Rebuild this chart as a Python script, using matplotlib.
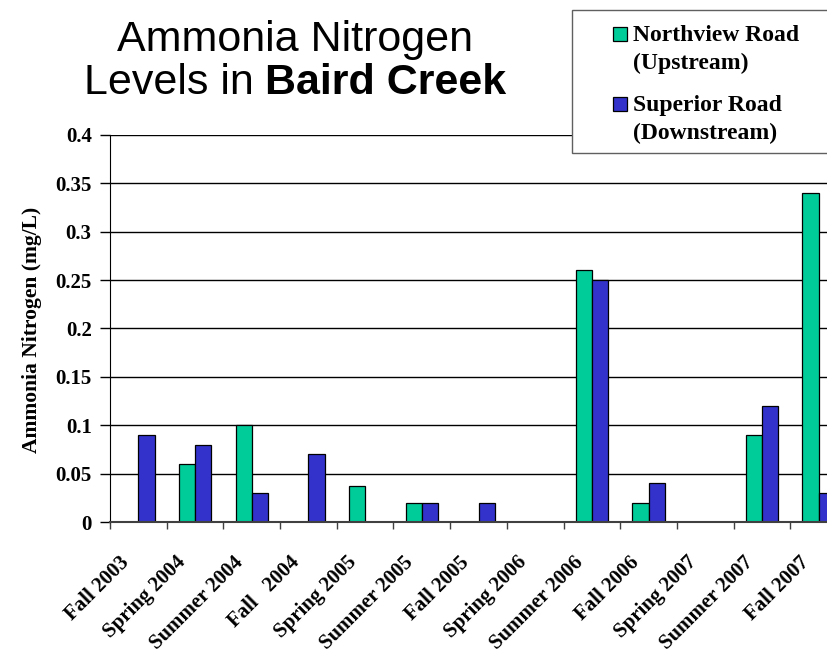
#!/usr/bin/env python3
"""Ammonia nitrogen levels in Baird Creek, grouped bars."""

import numpy as np
import matplotlib
matplotlib.use("Agg")
import matplotlib.pyplot as plt
from matplotlib.patches import Rectangle

seasons = ["Fall 2003", "Spring 2004", "Summer 2004", "Fall   2004",
           "Spring 2005", "Summer 2005", "Fall 2005", "Spring 2006",
           "Summer 2006", "Fall 2006", "Spring 2007", "Summer 2007",
           "Fall 2007"]
# None = no sample
northview = [None, 0.06, 0.10, None, 0.037, 0.02, None, None,
             0.26, 0.02, None, 0.09, 0.34]
superior = [0.09, 0.08, 0.03, 0.07, None, 0.02, 0.02, None,
            0.25, 0.04, None, 0.12, 0.03]
y_ticks = [0, 0.05, 0.1, 0.15, 0.2, 0.25, 0.3, 0.35, 0.4]
y_labels = ["0", "0.05", "0.1", "0.15", "0.2", "0.25", "0.3", "0.35", "0.4"]
series_names = [("Northview Road", "(Upstream)"),
                ("Superior Road", "(Downstream)")]

GREEN = "#00CC99"
BLUE = "#3333CC"
SERIF = "Liberation Serif"
SANS = "Liberation Sans"

W, H = 827, 649


def px(x, y):
    """pixel position (from top-left) -> figure fraction"""
    return x / W, 1 - y / H


def main():
    fig = plt.figure(figsize=(W / 100, H / 100), dpi=100, facecolor="white")
    # plot area runs past the right edge of the picture, as in the original
    ax = fig.add_axes([110 / W, 1 - 522 / H, 737 / W, 387 / H])

    nv = np.array([np.nan if v is None else v for v in northview])
    sp = np.array([np.nan if v is None else v for v in superior])
    centers = np.arange(len(seasons)) + 0.5
    bw = 0.285

    ax.bar(centers - bw, nv, width=bw, align="edge", color=GREEN,
           edgecolor="black", linewidth=0.9, zorder=3)
    ax.bar(centers, sp, width=bw, align="edge", color=BLUE,
           edgecolor="black", linewidth=0.9, zorder=3)

    ax.set_xlim(0, len(seasons))
    ax.set_ylim(0, 0.4)

    ax.set_yticks(y_ticks)
    ax.set_yticklabels(y_labels, fontfamily=SERIF, fontweight="bold",
                       fontsize=15)
    ax.tick_params(axis="y", direction="out", length=7.2, width=1, pad=6)
    ax.yaxis.grid(True, color="black", linewidth=1)
    ax.set_axisbelow(True)

    # slanted labels sit a little left of the category centre
    ax.set_xticks(centers - 0.21)
    ax.set_xticklabels(seasons, rotation=45, ha="right", va="center",
                       rotation_mode="anchor", fontfamily=SERIF,
                       fontweight="bold", fontsize=15)
    ax.set_xticks(np.arange(len(seasons) + 1), minor=True)
    ax.tick_params(axis="x", which="major", length=0, pad=27)
    ax.tick_params(axis="x", which="minor", direction="out", length=5,
                   width=1, color="#404040")

    for side in ("top", "right"):
        ax.spines[side].set_visible(False)
    ax.spines["left"].set_color("black")
    ax.spines["bottom"].set_color("#404040")
    ax.spines["bottom"].set_linewidth(1.5)
    ax.spines["bottom"].set_zorder(4)

    fig.text(*px(32, 330), "Ammonia Nitrogen (mg/L)", rotation=90,
             ha="center", va="center", fontfamily=SERIF, fontweight="bold",
             fontsize=15.5)

    # title: centred, second line mixes regular and bold
    cx = 295
    fig.text(*px(cx, 51), "Ammonia Nitrogen", ha="center", va="baseline",
             fontfamily=SANS, fontsize=31)
    renderer = fig.canvas.get_renderer()
    t1 = fig.text(*px(0, 94), "Levels in ", ha="left", va="baseline",
                  fontfamily=SANS, fontsize=31)
    t2 = fig.text(*px(0, 94), "Baird Creek", ha="left", va="baseline",
                  fontfamily=SANS, fontweight="bold", fontsize=31)
    w1 = t1.get_window_extent(renderer).width
    w2 = t2.get_window_extent(renderer).width
    left = cx - (w1 + w2) / 2
    t1.set_x(left / W)
    t2.set_x((left + w1) / W)

    # legend box, also cut by the right edge
    fig.patches.append(Rectangle(px(572, 153), 270 / W, 143 / H,
                                 transform=fig.transFigure, facecolor="white",
                                 edgecolor="#606060", linewidth=1, zorder=5))
    for (line1, line2), color, top in zip(series_names, [GREEN, BLUE],
                                          [27, 97]):
        fig.patches.append(Rectangle(px(613, top + 14), 14 / W, 14 / H,
                                     transform=fig.transFigure,
                                     facecolor=color, edgecolor="black",
                                     linewidth=0.9, zorder=6))
        fig.text(*px(633, top + 14), line1, ha="left", va="baseline",
                 fontfamily=SERIF, fontweight="bold", fontsize=17,
                 zorder=6)
        fig.text(*px(633, top + 42), line2, ha="left", va="baseline",
                 fontfamily=SERIF, fontweight="bold", fontsize=17,
                 zorder=6)

    fig.savefig("out.png", dpi=100, facecolor="white")


if __name__ == "__main__":
    main()
